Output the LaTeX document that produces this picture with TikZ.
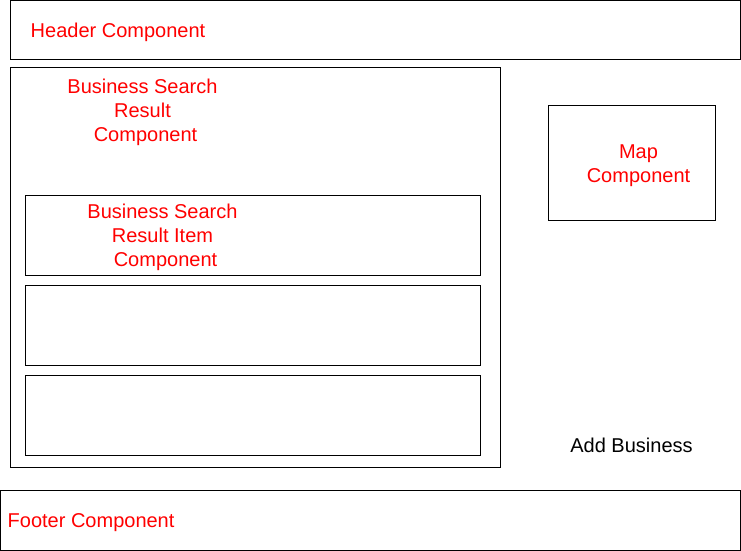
\documentclass[tikz,border=0pt]{standalone}
\usepackage{fontspec}
\setmainfont{Liberation Sans}
\begin{document}
\begin{tikzpicture}[x=1pt,y=-1pt,
  box/.style={draw=black, line width=1pt, rectangle, inner sep=0pt, outer sep=0pt},
  lbl/.style={inner sep=0pt, font=\fontsize{20}{24}\selectfont, text=red, align=center},
  blbl/.style={lbl, text=black}]
\useasboundingbox (0,0) rectangle (741,551);
% boxes
\node[box, minimum width=729.5pt, minimum height=59.5pt] (header) at (375.25,30.25) {};
\node[box, minimum width=489.5pt, minimum height=399.5pt] (bsr) at (255.25,267.25) {};
\node[box, minimum width=454.5pt, minimum height=79.5pt] (item1) at (252.75,235.25) {};
\node[box, minimum width=454.5pt, minimum height=79.5pt] (item2) at (252.75,325.25) {};
\node[box, minimum width=454.5pt, minimum height=79.5pt] (item3) at (252.75,415.25) {};
\node[box, minimum width=166.5pt, minimum height=114.5pt] (map) at (631.75,162.75) {};
\node[box, minimum width=739.5pt, minimum height=59.5pt] (footer) at (370.25,520.25) {};
% labels
\node[lbl, anchor=west] (headertxt) at (30.5,32.5) {Header Component};
\node[lbl] (bsrtxt) at (142.5,112.3) {Business Search\\Result\\\hspace*{6pt}Component};
\node[lbl] (itemtxt) at (162.5,237.3) {Business Search\\Result Item\\\hspace*{6pt}Component};
\node[lbl] (maptxt) at (638.5,165.8) {Map\\Component};
\node[blbl] (addtxt) at (631.5,445) {Add Business};
\node[lbl, anchor=west] (footertxt) at (7.5,522.5) {Footer Component};
\end{tikzpicture}
\end{document}
